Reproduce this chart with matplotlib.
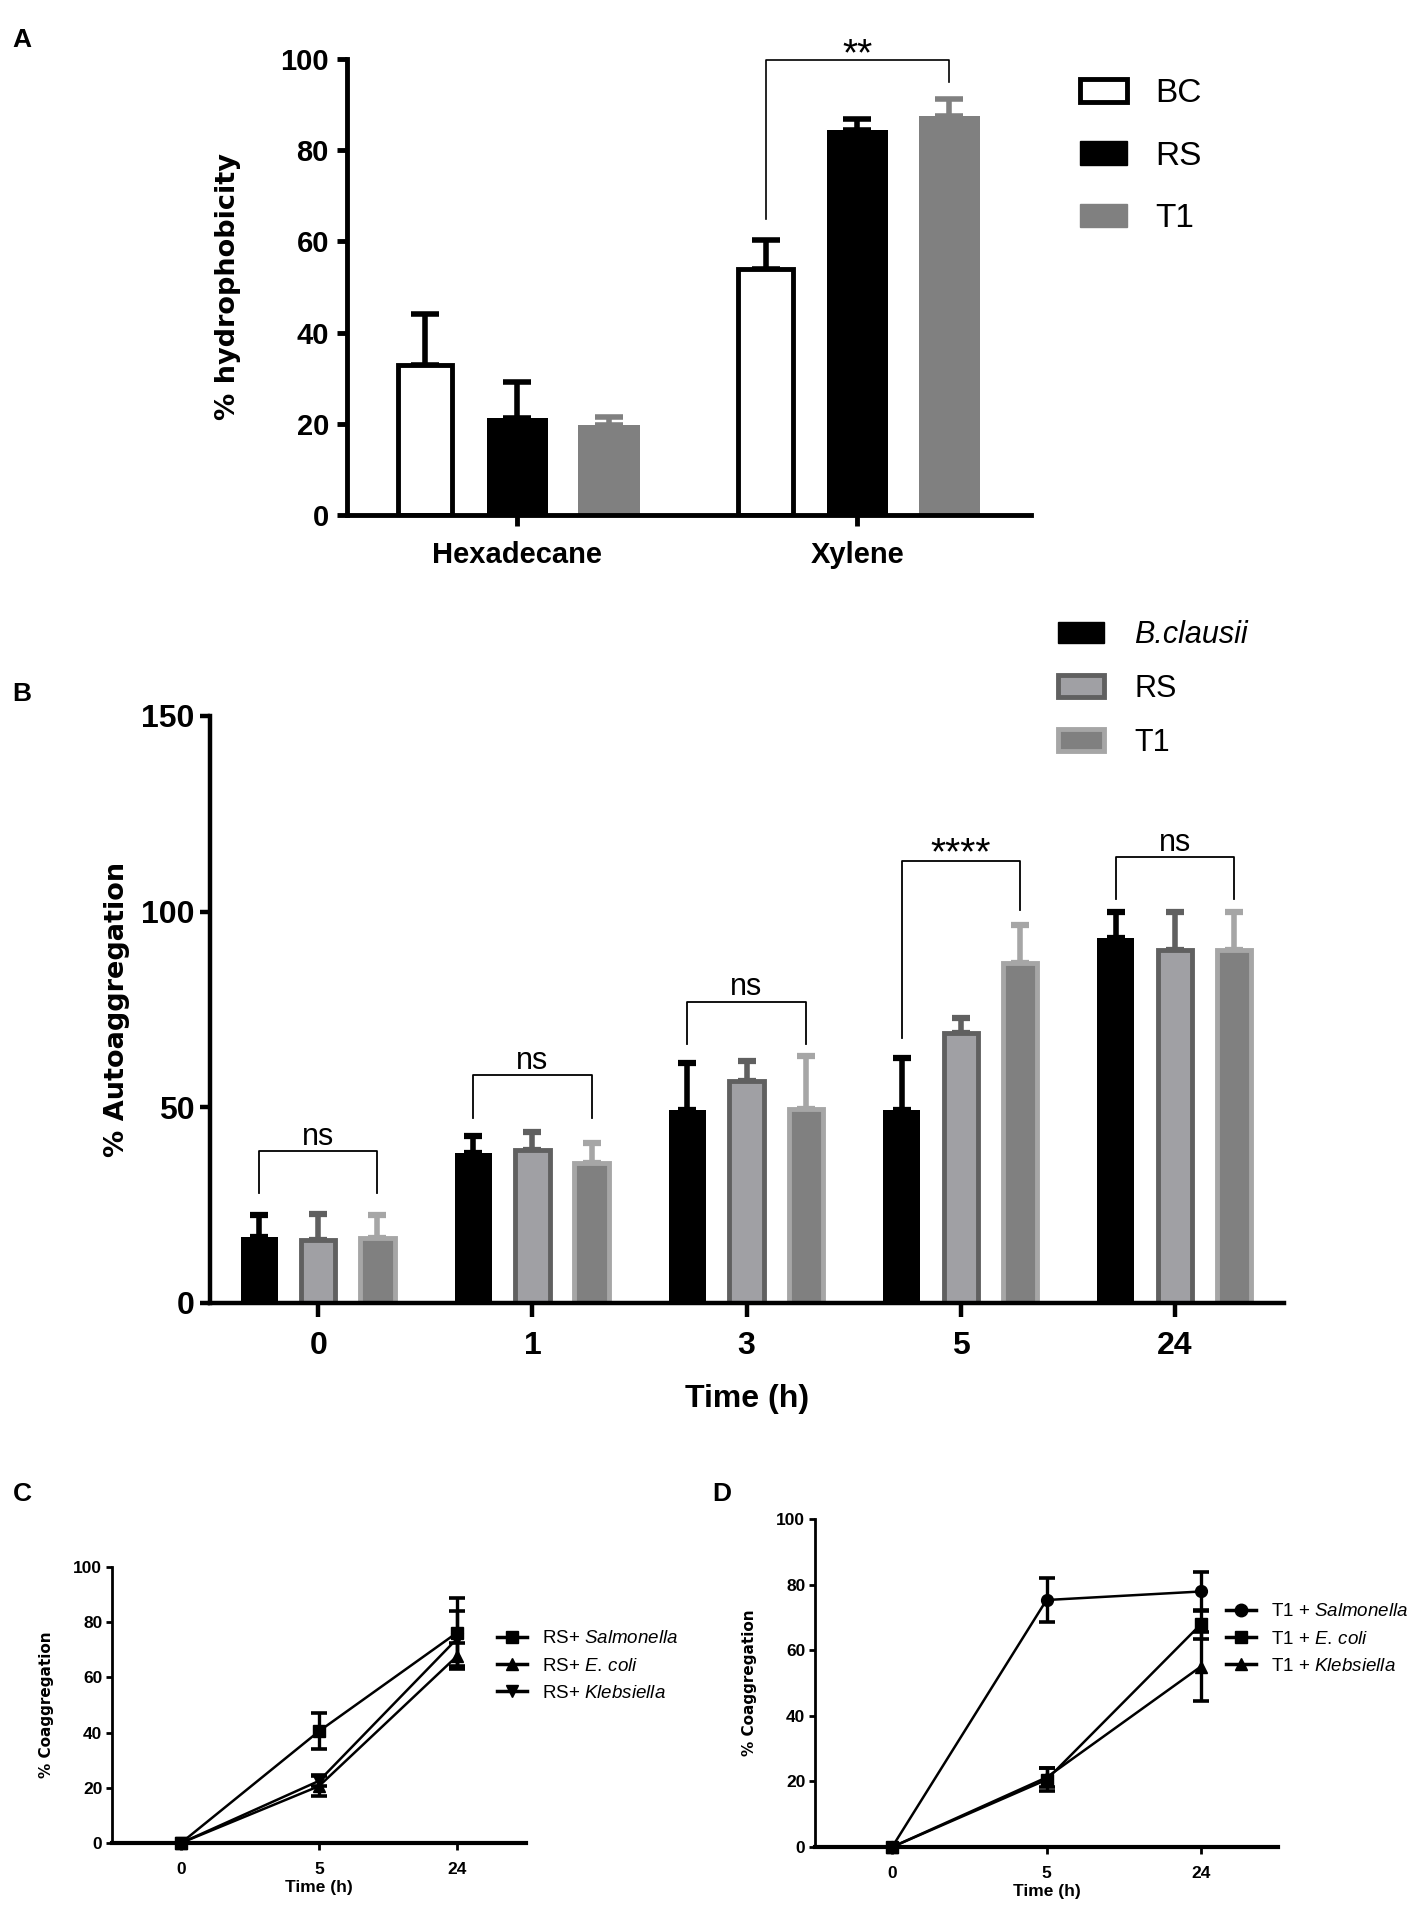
import matplotlib
matplotlib.use("Agg")
from matplotlib import pyplot as plt
from matplotlib.patches import Patch
from matplotlib.lines import Line2D
import numpy as np

# ---- data ----
hydro_groups = ['Hexadecane', 'Xylene']
hydro_bc = [33.0, 54.0]
hydro_bc_sd = [11.0, 6.3]
hydro_rs = [21.2, 84.4]
hydro_rs_sd = [7.9, 2.4]
hydro_t1 = [19.7, 87.4]
hydro_t1_sd = [1.7, 3.9]

auto_times = ['0', '1', '3', '5', '24']
auto_bc = [16.8, 38.3, 49.3, 49.3, 93.3]
auto_bc_sd = [5.8, 4.4, 12.0, 13.3, 6.7]
auto_rs = [16.2, 39.0, 56.8, 69.1, 90.3]
auto_rs_sd = [6.6, 4.6, 5.0, 3.8, 9.7]
auto_t1 = [16.7, 35.8, 49.7, 87.0, 90.3]
auto_t1_sd = [5.9, 5.2, 13.3, 9.7, 9.7]
auto_sig = ['ns', 'ns', 'ns', '****', 'ns']

coag_times = ['0', '5', '24']
rs_salm = [0.0, 40.5, 76.2]
rs_salm_sd = [0.0, 6.6, 12.7]
rs_ecoli = [0.0, 20.6, 67.7]
rs_ecoli_sd = [0.0, 3.5, 4.8]
rs_kleb = [0.0, 22.5, 74.0]
rs_kleb_sd = [0.0, 2.0, 10.0]

t1_salm = [0.0, 75.3, 77.9]
t1_salm_sd = [0.0, 6.6, 6.0]
t1_ecoli = [0.0, 20.5, 67.9]
t1_ecoli_sd = [0.0, 3.5, 4.4]
t1_kleb = [0.0, 21.2, 55.0]
t1_kleb_sd = [0.0, 3.0, 10.5]

W, H = 1418, 1909
TICKFONT = 'Liberation Sans'
LABFONT = 'DejaVu Sans'

plt.rcParams['mathtext.fontset'] = 'custom'
plt.rcParams['mathtext.rm'] = 'Liberation Sans'
plt.rcParams['mathtext.it'] = 'Liberation Sans:italic'


def fx(px):
    return px / W


def fy(py):
    return 1 - py / H


def add_axes(left, top, right, bottom):
    return fig.add_axes([fx(left), fy(bottom), fx(right) - fx(left), (bottom - top) / H])


def style_axes(ax, lw, fs, ylen, xlen, ypad, xpad):
    for s in ['top', 'right']:
        ax.spines[s].set_visible(False)
    for s in ['left', 'bottom']:
        ax.spines[s].set_linewidth(lw)
    ax.tick_params(axis='y', length=ylen, width=lw, pad=ypad)
    ax.tick_params(axis='x', length=xlen, width=lw, pad=xpad)
    for lab in ax.get_xticklabels() + ax.get_yticklabels():
        lab.set_fontfamily(TICKFONT)
        lab.set_fontweight('bold')
        lab.set_fontsize(fs)


fig = plt.figure(figsize=(W / 100, H / 100), dpi=100)

# ---------------- A ----------------
ax = add_axes(347, 59, 1031, 515)
x = np.arange(len(hydro_groups))
off, bw = 0.27, 0.16
ekw = dict(fmt='none', elinewidth=4, capsize=10, capthick=4, zorder=1)
ax.errorbar(x - off, hydro_bc, yerr=[np.zeros(2), hydro_bc_sd], ecolor='black', **ekw)
ax.errorbar(x, hydro_rs, yerr=[np.zeros(2), hydro_rs_sd], ecolor='black', **ekw)
ax.errorbar(x + off, hydro_t1, yerr=[np.zeros(2), hydro_t1_sd], ecolor='#808080', **ekw)
ax.bar(x - off, hydro_bc, bw, color='white', edgecolor='black', linewidth=3.5, zorder=2)
ax.bar(x, hydro_rs, 0.18, color='black', zorder=2)
ax.bar(x + off, hydro_t1, 0.18, color='#808080', zorder=2)
ax.set_xlim(-0.5, 1.51)
ax.set_ylim(0, 100)
ax.set_yticks([0, 20, 40, 60, 80, 100])
ax.set_xticks(x)
ax.set_xticklabels(hydro_groups)
style_axes(ax, 3.5, 21, 7, 8, 6, 11)
ax.set_ylabel('% hydrophobicity', family=LABFONT, fontweight='bold', fontsize=19.5, labelpad=28)
# significance bracket
ax.plot([1 - off, 1 - off, 1 + off, 1 + off], [65, 99.7, 99.7, 95], color='black', lw=1.2, clip_on=False)
ax.text(1, 98.6, '**', ha='center', va='baseline', fontsize=28, family=TICKFONT, clip_on=False)
leg_handles = [Patch(facecolor='white', edgecolor='black', linewidth=3.5),
               Patch(facecolor='black', edgecolor='black'),
               Patch(facecolor='#808080', edgecolor='#808080')]
fig.legend(leg_handles, ['BC', 'RS', 'T1'], loc='upper left', bbox_to_anchor=(fx(1080), fy(78)),
           frameon=False, borderpad=0, borderaxespad=0, prop={'family': TICKFONT, 'size': 24},
           handlelength=1.4, handleheight=0.7, handletextpad=0.85, labelspacing=0.95)

# ---------------- B ----------------
ax = add_axes(210, 716, 1284, 1303)
x = np.arange(len(auto_times))
off, bw = 0.276, 0.16
ekw = dict(fmt='none', elinewidth=4, capsize=6.5, capthick=4.5, zorder=1)
c_rs_fill, c_rs_edge = '#a0a0a4', '#606060'
c_t1_fill, c_t1_edge = '#808080', '#a6a6a6'
ax.errorbar(x - off, auto_bc, yerr=[np.zeros(5), auto_bc_sd], ecolor='black', **ekw)
ax.errorbar(x, auto_rs, yerr=[np.zeros(5), auto_rs_sd], ecolor=c_rs_edge, **ekw)
ax.errorbar(x + off, auto_t1, yerr=[np.zeros(5), auto_t1_sd], ecolor=c_t1_edge, **ekw)
ax.bar(x - off, auto_bc, 0.175, color='black', zorder=2)
ax.bar(x, auto_rs, bw, color=c_rs_fill, edgecolor=c_rs_edge, linewidth=3.5, zorder=2)
ax.bar(x + off, auto_t1, bw, color=c_t1_fill, edgecolor=c_t1_edge, linewidth=3.5, zorder=2)
ax.set_xlim(-0.506, 4.51)
ax.set_ylim(0, 150)
ax.set_yticks([0, 50, 100, 150])
ax.set_xticks(x)
ax.set_xticklabels(auto_times)
style_axes(ax, 3.2, 23, 7, 10, 4, 10)
ax.set_ylabel('% Autoaggregation', family=LABFONT, fontweight='bold', fontsize=19.5, labelpad=8)
ax.set_xlabel('Time (h)', family=TICKFONT, fontweight='bold', fontsize=23, labelpad=17)
# brackets: (bar top, left leg end, right leg end)
brackets = [(38.9, 28, 28), (58.3, 47.4, 47.4), (77, 66.2, 66.2), (113, 67.7, 100.3), (114, 103.3, 103.3)]
for i, (top, l, r) in enumerate(brackets):
    ax.plot([i - off, i - off, i + off, i + off], [l, top, top, r], color='black', lw=1.3, clip_on=False)
    if auto_sig[i] == 'ns':
        ax.text(i, top + 1.6, auto_sig[i], ha='center', va='baseline', fontsize=22, family=TICKFONT)
    else:
        ax.text(i, top - 1.0, auto_sig[i], ha='center', va='baseline', fontsize=28, family=TICKFONT)
leg_handles = [Patch(facecolor='black', edgecolor='black'),
               Patch(facecolor=c_rs_fill, edgecolor=c_rs_edge, linewidth=3.5),
               Patch(facecolor=c_t1_fill, edgecolor=c_t1_edge, linewidth=3.5)]
leg = fig.legend(leg_handles, ['B.clausii', 'RS', 'T1'], loc='upper left', bbox_to_anchor=(fx(1058), fy(620)),
                 frameon=False, borderpad=0, borderaxespad=0, prop={'family': TICKFONT, 'size': 22},
                 handlelength=1.5, handleheight=0.7, handletextpad=1.0, labelspacing=0.78)
leg.get_texts()[0].set_fontstyle('italic')


# ---------------- C & D ----------------
def coag_panel(ax, series, labels, markers, leg_anchor):
    x = np.arange(len(coag_times))
    for (vals, sd), mk in zip(series, markers):
        ax.errorbar(x, vals, yerr=sd, color='black', lw=1.8, marker=mk, markersize=8.5,
                    elinewidth=2.4, capsize=5.5, capthick=2.6, clip_on=False, zorder=3)
    ax.set_xlim(-0.5, 2.5)
    ax.set_ylim(0, 100)
    ax.set_yticks([0, 20, 40, 60, 80, 100])
    ax.set_xticks(x)
    ax.set_xticklabels(coag_times)
    style_axes(ax, 2.0, 12.5, 4, 5, 3, 9)
    ax.spines['bottom'].set_linewidth(3.0)
    ax.set_ylabel('% Coaggregation', family=LABFONT, fontweight='bold', fontsize=11, labelpad=14)
    ax.set_xlabel('Time (h)', family=TICKFONT, fontweight='bold', fontsize=12.5, labelpad=2)
    handles = [Line2D([], [], color='black', lw=2.5, marker=mk, markersize=9) for mk in markers]
    fig.legend(handles, labels, loc='upper left', bbox_to_anchor=leg_anchor, frameon=False,
               borderpad=0, borderaxespad=0, prop={'family': TICKFONT, 'size': 13.5},
               handlelength=1.6, handletextpad=0.8, labelspacing=0.55)


axc = add_axes(112, 1567, 526, 1843)
coag_panel(axc, [(rs_salm, rs_salm_sd), (rs_ecoli, rs_ecoli_sd), (rs_kleb, rs_kleb_sd)],
           ['RS+ $\\it{Salmonella}$', 'RS+ $\\it{E.\\,coli}$', 'RS+ $\\it{Klebsiella}$'],
           ['s', '^', 'v'], (fx(497), fy(1630)))

axd = add_axes(815, 1519, 1278, 1847)
coag_panel(axd, [(t1_salm, t1_salm_sd), (t1_ecoli, t1_ecoli_sd), (t1_kleb, t1_kleb_sd)],
           ['T1 + $\\it{Salmonella}$', 'T1 + $\\it{E.\\,coli}$', 'T1 + $\\it{Klebsiella}$'],
           ['o', 's', '^'], (fx(1226), fy(1603)))

# panel letters
for lab, px, py in [('A', 22, 40), ('B', 22, 694), ('C', 22, 1494), ('D', 722, 1494)]:
    fig.text(fx(px), fy(py), lab, ha='center', va='center', fontsize=19, fontweight='bold', family=TICKFONT)

fig.savefig('out.png', dpi=100)
